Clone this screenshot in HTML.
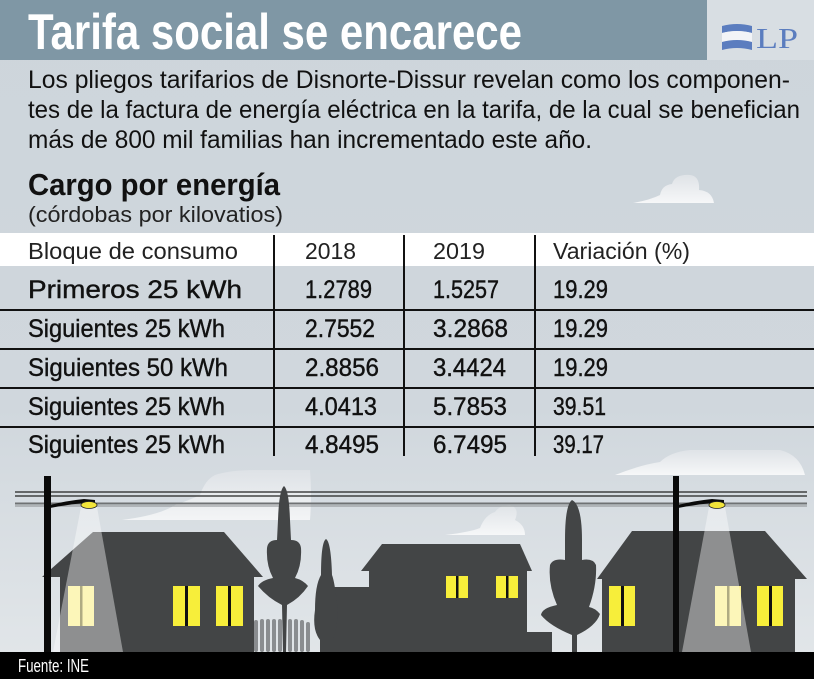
<!DOCTYPE html>
<html><head><meta charset="utf-8"><style>
html,body{margin:0;padding:0;background:#cfd6dc;}
svg{display:block}
text{font-family:"Liberation Sans",sans-serif;}
</style></head><body>
<svg width="814" height="679" viewBox="0 0 814 679" xmlns="http://www.w3.org/2000/svg">
<defs>
<linearGradient id="bg" x1="0" y1="0" x2="0" y2="1">
<stop offset="0" stop-color="#cdd5db"/><stop offset="0.6" stop-color="#d0d7dd"/><stop offset="1" stop-color="#e3e7ea"/>
</linearGradient>
<linearGradient id="cl" x1="0" y1="0" x2="0" y2="1">
<stop offset="0" stop-color="#dfe3e7"/><stop offset="1" stop-color="#f6f7f8"/>
</linearGradient>
</defs>
<rect width="814" height="679" fill="url(#bg)"/>
<rect x="0" y="0" width="707" height="60" fill="#7f97a5"/>
<rect x="707" y="0" width="107" height="60" fill="#d8dee3"/>
<text x="28" y="49" font-size="50" font-weight="bold" fill="#fff" textLength="494" lengthAdjust="spacingAndGlyphs">Tarifa social se encarece</text>
<path d="M722,26 Q737,22 752,26 L752,33 Q737,29 722,33 Z" fill="#5b7dbf"/>
<path d="M722,33 Q737,29 752,33 L752,42 Q737,38 722,42 Z" fill="#f2f4f7"/>
<path d="M722,42 Q737,38 752,42 L752,50 Q737,46 722,50 Z" fill="#5b7dbf"/>
<text x="756" y="48" font-size="29" fill="#5b7dbf" style="font-family:'Liberation Serif',serif" textLength="42" lengthAdjust="spacingAndGlyphs">LP</text>
<g font-size="25" fill="#111">
<text x="28" y="88" textLength="762" lengthAdjust="spacingAndGlyphs">Los pliegos tarifarios de Disnorte-Dissur revelan como los componen-</text>
<text x="28" y="118" textLength="772" lengthAdjust="spacingAndGlyphs">tes de la factura de energía eléctrica en la tarifa, de la cual se benefician</text>
<text x="28" y="148" textLength="564" lengthAdjust="spacingAndGlyphs">más de 800 mil familias han incrementado este año.</text>
</g>
<text x="28" y="195" font-size="31" font-weight="bold" fill="#111" textLength="252" lengthAdjust="spacingAndGlyphs">Cargo por energía</text>
<text x="28" y="222" font-size="22" fill="#222" textLength="255" lengthAdjust="spacingAndGlyphs">(córdobas por kilovatios)</text>
<path d="M633,203 Q650,200 660,195 Q662,185 672,184 Q675,174 690,175 Q700,176 699,190 Q712,191 714,203 Z" fill="url(#cl)"/>
<path d="M122,520 Q160,515 175,505 Q190,500 200,495 Q205,480 215,475 Q230,470 255,470 L310,470 Q312,495 310,520 Z" fill="url(#cl)" opacity="0.9"/>
<path d="M445,535 Q470,532 480,528 Q485,515 495,512 Q500,505 510,505 Q520,508 515,520 Q525,525 525,535 Z" fill="url(#cl)"/>
<path d="M615,475 Q640,465 660,462 Q670,452 690,450 L780,450 Q800,455 805,475 Z" fill="url(#cl)"/>
<rect x="0" y="233" width="814" height="33" fill="#fff"/>
<g stroke="#111" stroke-width="2">
<line x1="274" y1="235" x2="274" y2="456"/>
<line x1="404" y1="235" x2="404" y2="456"/>
<line x1="535" y1="235" x2="535" y2="456"/>
<line x1="0" y1="310" x2="814" y2="310"/>
<line x1="0" y1="349" x2="814" y2="349"/>
<line x1="0" y1="388" x2="814" y2="388"/>
<line x1="0" y1="427" x2="814" y2="427"/>
</g>
<g font-size="23" fill="#222">
<text x="28" y="259" textLength="210" lengthAdjust="spacingAndGlyphs">Bloque de consumo</text>
<text x="305" y="259" textLength="51" lengthAdjust="spacingAndGlyphs">2018</text>
<text x="433" y="259" textLength="52" lengthAdjust="spacingAndGlyphs">2019</text>
<text x="553" y="259" textLength="137" lengthAdjust="spacingAndGlyphs">Variación (%)</text>
</g>
<g font-size="25" fill="#111" stroke="#111" stroke-width="0.4">
<text x="28" y="298" textLength="214" lengthAdjust="spacingAndGlyphs">Primeros 25 kWh</text>
<text x="305" y="298" textLength="67" lengthAdjust="spacingAndGlyphs">1.2789</text>
<text x="433" y="298" textLength="66" lengthAdjust="spacingAndGlyphs">1.5257</text>
<text x="553" y="298" textLength="55" lengthAdjust="spacingAndGlyphs">19.29</text>
<text x="28" y="337" textLength="197" lengthAdjust="spacingAndGlyphs">Siguientes 25 kWh</text>
<text x="305" y="337" textLength="70" lengthAdjust="spacingAndGlyphs">2.7552</text>
<text x="433" y="337" textLength="75" lengthAdjust="spacingAndGlyphs">3.2868</text>
<text x="553" y="337" textLength="55" lengthAdjust="spacingAndGlyphs">19.29</text>
<text x="28" y="376" textLength="200" lengthAdjust="spacingAndGlyphs">Siguientes 50 kWh</text>
<text x="305" y="376" textLength="74" lengthAdjust="spacingAndGlyphs">2.8856</text>
<text x="433" y="376" textLength="73" lengthAdjust="spacingAndGlyphs">3.4424</text>
<text x="553" y="376" textLength="55" lengthAdjust="spacingAndGlyphs">19.29</text>
<text x="28" y="415" textLength="197" lengthAdjust="spacingAndGlyphs">Siguientes 25 kWh</text>
<text x="305" y="415" textLength="72" lengthAdjust="spacingAndGlyphs">4.0413</text>
<text x="433" y="415" textLength="74" lengthAdjust="spacingAndGlyphs">5.7853</text>
<text x="553" y="415" textLength="53" lengthAdjust="spacingAndGlyphs">39.51</text>
<text x="28" y="453" textLength="197" lengthAdjust="spacingAndGlyphs">Siguientes 25 kWh</text>
<text x="305" y="453" textLength="74" lengthAdjust="spacingAndGlyphs">4.8495</text>
<text x="433" y="453" textLength="74" lengthAdjust="spacingAndGlyphs">6.7495</text>
<text x="553" y="453" textLength="51" lengthAdjust="spacingAndGlyphs">39.17</text>
</g>
<g>
<line x1="15" y1="492" x2="807" y2="492" stroke="#222" stroke-width="1.2"/>
<line x1="15" y1="496" x2="807" y2="496" stroke="#222" stroke-width="1.2"/>
<line x1="15" y1="503.5" x2="807" y2="503.5" stroke="#6f7274" stroke-width="2"/>
<line x1="15" y1="506" x2="807" y2="506" stroke="#888b8d" stroke-width="1"/>
</g>
<g fill="#434546">
<polygon points="42,577 93,532 224,532 263,577"/>
<rect x="60" y="576" width="194" height="76"/>
<rect x="320" y="587" width="50" height="65"/>
<polygon points="361,571 382,544 520,544 532,571"/>
<rect x="369" y="570" width="158" height="82"/>
<rect x="526" y="632" width="26" height="20"/>
<polygon points="597,579 632,531 765,531 807,579"/>
<rect x="602" y="578" width="193" height="74"/>
<path d="M284,486 Q279,490 278,520 L277,540 Q268,540 267,548 Q266,565 273,578 Q262,580 258,586 Q268,598 282,605 L283,652 L286,652 L287,605 Q300,598 308,586 Q303,580 295,578 Q302,565 301,548 Q300,540 291,540 L290,520 Q289,490 284,486 Z"/>
<path d="M326,539 Q321,542 321,575 Q315,585 315,610 Q312,630 320,640 L320,652 L333,652 L333,640 Q340,620 336,595 Q334,580 332,575 Q331,542 326,539 Z"/>
<path d="M572,500 Q565,505 565,540 L565,560 Q553,558 550,565 Q548,585 557,605 Q542,608 541,615 Q550,626 572,635 L572,652 L577,652 L577,635 Q596,626 600,614 Q595,608 589,607 Q597,585 596,565 Q593,558 582,560 L582,540 Q582,505 572,500 Z"/>
</g>
<g fill="#8a8d90">
<rect x="254" y="620" width="4" height="32" rx="2"/>
<rect x="260" y="619" width="4" height="33" rx="2"/>
<rect x="266" y="619" width="4" height="33" rx="2"/>
<rect x="272" y="619" width="4" height="33" rx="2"/>
<rect x="278" y="619" width="4" height="33" rx="2"/>
<rect x="288" y="619" width="4" height="33" rx="2"/>
<rect x="294" y="619" width="4" height="33" rx="2"/>
<rect x="300" y="620" width="4" height="32" rx="2"/>
<rect x="306" y="622" width="4" height="30" rx="2"/>
</g>
<g>
<rect x="68" y="586" width="26" height="40" fill="#fbf08a"/><rect x="80" y="586" width="2.5" height="40" fill="#7a7330"/>
<rect x="173" y="586" width="27" height="40" fill="#f7ee3a"/><rect x="185" y="586" width="3" height="40" fill="#111"/>
<rect x="216" y="586" width="27" height="40" fill="#f7ee3a"/><rect x="228" y="586" width="3" height="40" fill="#111"/>
<rect x="446" y="576" width="22" height="22" fill="#f7ee3a"/><rect x="456" y="576" width="2.5" height="22" fill="#111"/>
<rect x="496" y="576" width="22" height="22" fill="#f7ee3a"/><rect x="506" y="576" width="2.5" height="22" fill="#111"/>
<rect x="609" y="586" width="26" height="40" fill="#f7ee3a"/><rect x="621" y="586" width="3" height="40" fill="#111"/>
<rect x="715" y="586" width="26" height="40" fill="#fbf08a"/><rect x="727" y="586" width="2.5" height="40" fill="#7a7330"/>
<rect x="757" y="586" width="26" height="40" fill="#f7ee3a"/><rect x="769" y="586" width="3" height="40" fill="#111"/>
</g>
<polygon points="81,507 97,507 123,652 53,652" fill="#ffffff" opacity="0.4"/>
<polygon points="709,507 725,507 751,652 682,652" fill="#ffffff" opacity="0.4"/>
<rect x="44" y="476" width="7" height="176" fill="#0a0a0a"/>
<path d="M50,508 L50,505 Q65,501 84,499 L95,500 L95,504 L84,503 Q65,505 50,508 Z" fill="#0a0a0a"/>
<ellipse cx="89" cy="505" rx="8" ry="3.5" fill="#f2e43a" stroke="#222" stroke-width="0.8"/>
<rect x="673" y="476" width="6" height="176" fill="#0a0a0a"/>
<path d="M678,508 L678,505 Q693,501 712,499 L724,500 L724,504 L712,503 Q693,505 678,508 Z" fill="#0a0a0a"/>
<ellipse cx="717" cy="505" rx="8" ry="3.5" fill="#f2e43a" stroke="#222" stroke-width="0.8"/>
<rect x="0" y="652" width="814" height="27" fill="#000"/>
<text x="18" y="672" font-size="18" fill="#fff" textLength="71" lengthAdjust="spacingAndGlyphs">Fuente: INE</text>
</svg>
</body></html>
